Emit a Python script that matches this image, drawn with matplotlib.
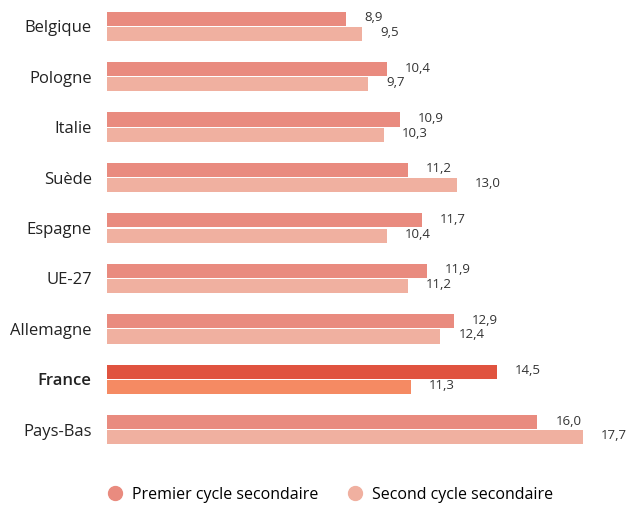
import matplotlib.pyplot as plt
from matplotlib.lines import Line2D
import numpy as np

plt.rcParams['font.family'] = ['Open Sans', 'DejaVu Sans']

# data
countries = ['Belgique', 'Pologne', 'Italie', 'Suède', 'Espagne',
             'UE-27', 'Allemagne', 'France', 'Pays-Bas']
premier = [8.9, 10.4, 10.9, 11.2, 11.7, 11.9, 12.9, 14.5, 16.0]
second = [9.5, 9.7, 10.3, 13.0, 10.4, 11.2, 12.4, 11.3, 17.7]
series_names = ['Premier cycle secondaire', 'Second cycle secondaire']

c_prem, c_sec = '#E98B7F', '#F0B0A0'
c_prem_fr, c_sec_fr = '#E0533F', '#F58A63'
highlight = 'France'

fig = plt.figure(figsize=(6.28, 5.05), dpi=100)
ax = fig.add_axes([107 / 628, 1 - 455 / 505, (583 - 107) / 628, 454 / 505])

y = np.arange(len(countries))
bh = 0.28
cols_p = [c_prem_fr if c == highlight else c_prem for c in countries]
cols_s = [c_sec_fr if c == highlight else c_sec for c in countries]
ax.barh(y - bh / 2 - 0.01, premier, height=bh, color=cols_p)
ax.barh(y + bh / 2 + 0.01, second, height=bh, color=cols_s)

fmt = lambda v: f'{v:.1f}'.replace('.', ',')
for i, (p, s) in enumerate(zip(premier, second)):
    ax.annotate(fmt(p), (p, i - 0.17), xytext=(13, 0), textcoords='offset points',
                ha='left', va='center', fontsize=9.5, color='#333333')
    ax.annotate(fmt(s), (s, i + 0.12), xytext=(13, 0), textcoords='offset points',
                ha='left', va='center', fontsize=9.5, color='#333333',
                annotation_clip=False)

ax.set_xlim(0, 17.7)
ax.set_ylim(len(countries) - 0.5, -0.5)
ax.set_yticks(y)
ax.set_yticklabels(countries, fontsize=12, color='#222222')
for lab in ax.get_yticklabels():
    if lab.get_text() == highlight:
        lab.set_fontweight('semibold')
ax.tick_params(axis='y', length=0, pad=11)
ax.set_xticks([])
for sp in ax.spines.values():
    sp.set_visible(False)

handles = [Line2D([], [], marker='o', ls='', markersize=10, color=c_prem),
           Line2D([], [], marker='o', ls='', markersize=10, color=c_sec)]
fig.legend(handles, series_names, loc='center', bbox_to_anchor=(326 / 628, 1 - 495 / 505),
           ncol=2, frameon=False, fontsize=11.5, handletextpad=0.05, columnspacing=1.3)

fig.savefig('out.png', dpi=100)
